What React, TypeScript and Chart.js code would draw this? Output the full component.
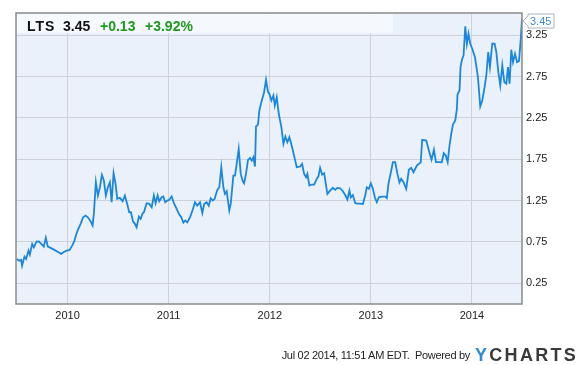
import React, { useEffect, useRef } from "react";
import { Chart, registerables } from "chart.js";

Chart.register(...registerables);

const symbol = "LTS";
const lastPriceLabel = "3.45";
const changeAbs = "+0.13";
const changePct = "+3.92%";
const footerText = "Jul 02 2014, 11:51 AM EDT.  Powered by";

const xTicks = [2010, 2011, 2012, 2013, 2014];
const yTicks = [0.25, 0.75, 1.25, 1.75, 2.25, 2.75, 3.25];

const years = [
  2009.495, 2009.518, 2009.541, 2009.55, 2009.574, 2009.59, 2009.614, 2009.627, 2009.65, 2009.666,
  2009.693, 2009.716, 2009.749, 2009.765, 2009.785, 2009.805, 2009.832, 2009.864, 2009.897, 2009.937,
  2009.963, 2009.99, 2010.02, 2010.046, 2010.069, 2010.085, 2010.102, 2010.129, 2010.154, 2010.178,
  2010.201, 2010.228, 2010.248, 2010.26, 2010.28, 2010.3, 2010.32, 2010.34, 2010.359, 2010.379,
  2010.399, 2010.419, 2010.436, 2010.455, 2010.475, 2010.491, 2010.518, 2010.545, 2010.567, 2010.59,
  2010.61, 2010.627, 2010.647, 2010.663, 2010.683, 2010.706, 2010.723, 2010.743, 2010.755, 2010.782,
  2010.808, 2010.832, 2010.854, 2010.871, 2010.891, 2010.907, 2010.931, 2010.947, 2010.966, 2010.986,
  2011.006, 2011.03, 2011.052, 2011.079, 2011.105, 2011.125, 2011.145, 2011.164, 2011.184, 2011.211,
  2011.238, 2011.26, 2011.283, 2011.31, 2011.333, 2011.352, 2011.376, 2011.396, 2011.416, 2011.436,
  2011.455, 2011.481, 2011.501, 2011.521, 2011.541, 2011.557, 2011.574, 2011.6, 2011.614, 2011.64,
  2011.656, 2011.673, 2011.693, 2011.713, 2011.733, 2011.746, 2011.765, 2011.785, 2011.805, 2011.822,
  2011.838, 2011.854, 2011.864, 2011.884, 2011.897, 2011.921, 2011.944, 2011.963, 2011.983, 2011.996,
  2012.016, 2012.036, 2012.05, 2012.069, 2012.089, 2012.115, 2012.135, 2012.154, 2012.174, 2012.194,
  2012.221, 2012.248, 2012.267, 2012.3, 2012.32, 2012.34, 2012.359, 2012.372, 2012.392, 2012.416,
  2012.439, 2012.465, 2012.481, 2012.498, 2012.518, 2012.538, 2012.57, 2012.597, 2012.624, 2012.647,
  2012.669, 2012.696, 2012.723, 2012.749, 2012.768, 2012.788, 2012.802, 2012.822, 2012.845, 2012.867,
  2012.894, 2012.921, 2012.944, 2012.96, 2012.98, 2013.0, 2013.02, 2013.04, 2013.059, 2013.079,
  2013.109, 2013.142, 2013.158, 2013.174, 2013.198, 2013.218, 2013.241, 2013.263, 2013.283, 2013.3,
  2013.323, 2013.35, 2013.376, 2013.399, 2013.422, 2013.455, 2013.481, 2013.493, 2013.508, 2013.548,
  2013.574, 2013.6, 2013.624, 2013.644, 2013.679, 2013.701, 2013.721, 2013.741, 2013.76, 2013.778,
  2013.795, 2013.812, 2013.835, 2013.851, 2013.857, 2013.877, 2013.887, 2013.901, 2013.917, 2013.934,
  2013.95, 2013.966, 2013.983, 2014.003, 2014.03, 2014.059, 2014.082, 2014.102, 2014.125, 2014.142,
  2014.161, 2014.178, 2014.201, 2014.224, 2014.241, 2014.261, 2014.28, 2014.3, 2014.32, 2014.34,
  2014.356, 2014.372, 2014.389, 2014.406, 2014.426, 2014.446, 2014.465, 2014.482, 2014.495,
];

const prices = [
  0.545, 0.525, 0.533, 0.464, 0.573, 0.545, 0.646, 0.597, 0.727, 0.686,
  0.755, 0.758, 0.715, 0.694, 0.8, 0.694, 0.679, 0.658, 0.634, 0.606,
  0.63, 0.646, 0.654, 0.706, 0.767, 0.84, 0.896, 0.969, 1.049, 1.07,
  1.049, 1.0, 0.949, 1.09, 1.473, 1.312, 1.412, 1.562, 1.493, 1.312,
  1.412, 1.473, 1.231, 1.582, 1.453, 1.272, 1.284, 1.243, 1.312, 1.211,
  1.11, 1.11, 1.0, 0.976, 0.928, 1.058, 1.03, 1.097, 1.11, 1.219,
  1.211, 1.17, 1.312, 1.219, 1.312, 1.243, 1.291, 1.3, 1.231, 1.251,
  1.26, 1.3, 1.219, 1.15, 1.082, 1.049, 0.985, 1.009, 0.988, 1.049,
  1.139, 1.231, 1.19, 1.231, 1.102, 1.211, 1.231, 1.19, 1.279, 1.251,
  1.272, 1.381, 1.412, 1.654, 1.412, 1.332, 1.364, 1.13, 1.211, 1.554,
  1.554, 1.695, 1.877, 1.574, 1.485, 1.46, 1.574, 1.744, 1.768, 1.735,
  1.775, 1.663, 2.147, 2.171, 2.341, 2.462, 2.562, 2.712, 2.562, 2.543,
  2.462, 2.522, 2.401, 2.502, 2.301, 2.139, 1.938, 2.026, 1.957, 2.018,
  1.897, 1.756, 1.654, 1.663, 1.695, 1.574, 1.533, 1.574, 1.433, 1.445,
  1.445, 1.514, 1.542, 1.647, 1.566, 1.582, 1.332, 1.372, 1.405, 1.381,
  1.405, 1.4, 1.364, 1.312, 1.263, 1.372, 1.288, 1.318, 1.221, 1.215,
  1.215, 1.209, 1.312, 1.412, 1.393, 1.46, 1.393, 1.288, 1.231, 1.291,
  1.3, 1.3, 1.282, 1.453, 1.594, 1.715, 1.715, 1.574, 1.469, 1.514,
  1.473, 1.393, 1.623, 1.647, 1.594, 1.675, 1.703, 1.711, 1.986, 1.977,
  1.857, 1.744, 1.865, 1.715, 1.715, 1.714, 1.824, 1.796, 1.715, 1.917,
  2.059, 2.171, 2.22, 2.361, 2.534, 2.583, 2.865, 2.954, 3.007, 3.358,
  3.148, 3.269, 3.148, 3.088, 2.986, 2.744, 2.389, 2.462, 2.623, 2.764,
  3.047, 2.865, 3.148, 3.148, 3.047, 2.805, 2.644, 2.886, 2.684, 2.664,
  2.865, 2.664, 3.076, 2.926, 3.027, 2.926, 2.938, 3.188, 3.45,
];

const FONT = "Arial, 'Liberation Sans', sans-serif";

export default function App() {
  const ref = useRef<HTMLCanvasElement>(null);

  useEffect(() => {
    if (!ref.current) return;
    const decorPlugin = {
      id: "decor",
      beforeDraw(chart: any) {
        const { ctx, chartArea } = chart;
        const { left, top, right, bottom } = chartArea;
        ctx.save();
        ctx.fillStyle = "#eaf1fb";
        ctx.fillRect(left, top, right - left, bottom - top);
        ctx.restore();
      },
      afterDatasetsDraw(chart: any) {
        const { ctx, chartArea, scales } = chart;
        const { left, top, right, bottom } = chartArea;
        ctx.save();
        ctx.strokeStyle = "#8a8a8a";
        ctx.lineWidth = 1.5;
        ctx.strokeRect(left, top, right - left, bottom - top);
        // last price tag
        const lastVal = prices[prices.length - 1];
        const py = scales.y.getPixelForValue(lastVal);
        const cy = Math.max(py, top + 8);
        const x0 = right + 1;
        ctx.beginPath();
        ctx.moveTo(x0, cy);
        ctx.lineTo(x0 + 5, cy - 5);
        ctx.lineTo(x0 + 5, cy - 7);
        ctx.lineTo(x0 + 31, cy - 7);
        ctx.lineTo(x0 + 31, cy + 7);
        ctx.lineTo(x0 + 5, cy + 7);
        ctx.lineTo(x0 + 5, cy + 5);
        ctx.closePath();
        ctx.fillStyle = "#ffffff";
        ctx.fill();
        ctx.strokeStyle = "#a9b4c0";
        ctx.lineWidth = 1;
        ctx.stroke();
        ctx.fillStyle = "#3b8ed3";
        ctx.font = `11px ${FONT}`;
        ctx.textBaseline = "middle";
        ctx.textAlign = "left";
        ctx.fillText(lastVal.toFixed(2), x0 + 7, cy + 0.5);
        ctx.restore();
      },
    };

    const chart = new Chart(ref.current, {
      type: "line",
      data: {
        datasets: [
          {
            data: years.map((y, i) => ({ x: y, y: prices[i] })),
            borderColor: "#1b87dc",
            borderWidth: 1.8,
            pointRadius: 0,
            tension: 0,
            fill: false,
          },
        ],
      },
      options: {
        responsive: false,
        animation: false,
        layout: { padding: { left: 16, top: 13, right: 0, bottom: 0 } },
        plugins: { legend: { display: false }, tooltip: { enabled: false } },
        scales: {
          x: {
            type: "linear",
            min: 2009.49,
            max: 2014.495,
            afterBuildTicks: (s: any) => {
              s.ticks = xTicks.map((v) => ({ value: v }));
            },
            afterFit: (s: any) => {
              s.height = 61;
            },
            ticks: {
              callback: (v: any) => String(v),
              color: "#222",
              font: { family: FONT, size: 11 },
              padding: 5,
              maxRotation: 0,
              autoSkip: false,
            },
            grid: { color: "#cdd2da", drawTicks: false, lineWidth: 1 },
            border: { display: false },
          },
          y: {
            position: "right",
            min: 0,
            max: 3.52,
            afterBuildTicks: (s: any) => {
              s.ticks = yTicks.map((v) => ({ value: v }));
            },
            afterFit: (s: any) => {
              s.width = 61;
            },
            ticks: {
              callback: (v: any) => Number(v).toFixed(2),
              color: "#222",
              font: { family: FONT, size: 11 },
              padding: 4,
              autoSkip: false,
            },
            grid: { color: "#cdd2da", drawTicks: false, lineWidth: 1 },
            border: { display: false },
          },
        },
      },
      plugins: [decorPlugin],
    });
    return () => chart.destroy();
  }, []);

  const bold14: React.CSSProperties = {
    position: "absolute",
    top: 19,
    font: `bold 14px ${FONT}`,
    lineHeight: "14px",
    whiteSpace: "pre",
  };

  return (
    <div
      style={{
        position: "absolute",
        left: 0,
        top: 0,
        width: 583,
        height: 365,
        background: "#ffffff",
        overflow: "hidden",
      }}
    >
      <canvas ref={ref} width={583} height={365} style={{ position: "absolute", left: 0, top: 0 }} />
      <div
        style={{
          position: "absolute",
          left: 17,
          top: 14,
          width: 376,
          height: 19,
          background: "#f5f8fd",
        }}
      />
      <span style={{ ...bold14, left: 27, color: "#111", letterSpacing: "1px" }}>{symbol}</span>
      <span style={{ ...bold14, left: 63, color: "#111" }}>{lastPriceLabel}</span>
      <span style={{ ...bold14, left: 100, color: "#1f9a1f" }}>{changeAbs}</span>
      <span style={{ ...bold14, left: 145, color: "#1f9a1f" }}>{changePct}</span>
      <span
        style={{
          position: "absolute",
          right: 113,
          top: 349.5,
          font: `11px ${FONT}`,
          lineHeight: "11px",
          color: "#222",
          whiteSpace: "pre",
          letterSpacing: "-0.3px",
        }}
      >
        {footerText}
      </span>
      <span
        style={{
          position: "absolute",
          left: 475,
          top: 345.5,
          font: `bold 18px ${FONT}`,
          lineHeight: "18px",
          whiteSpace: "pre",
          letterSpacing: "2.3px",
        }}
      >
        <span style={{ color: "#2b8dd8" }}>Y</span>
        <span style={{ color: "#3a3a3a" }}>CHARTS</span>
      </span>
    </div>
  );
}
